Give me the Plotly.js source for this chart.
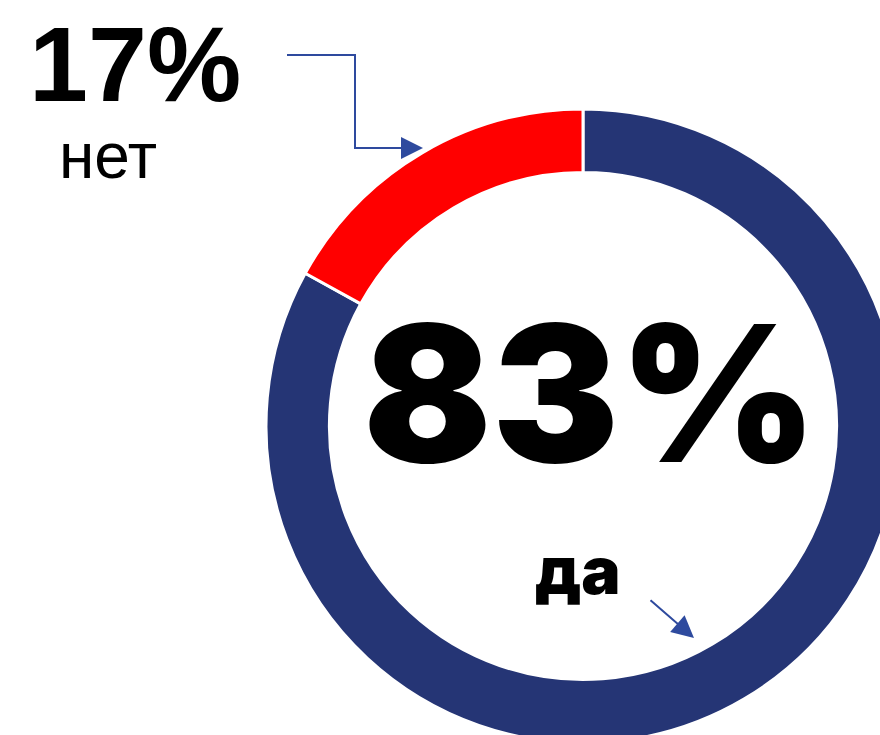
<!DOCTYPE html>
<html>
<head>
<meta charset="utf-8">
<script src="https://cdn.plot.ly/plotly-3.0.1.min.js"></script>
<style>
html, body { margin: 0; padding: 0; overflow: hidden; background: #ffffff; width: 880px; height: 735px; }
#chart { width: 1000px; height: 900px; }
</style>
</head>
<body>
<div id="chart"></div>
<script>
// Data (drawn clockwise from 12 o'clock: "да" first, "нет" ends at the top)
const labels = ['да', 'нет'];
const values = [83, 17];
const sliceColors = ['#253575', '#FF0000'];
const valueLabels = ['83%', '17%'];

const W = 1000, H = 900;
const px = v => v / W;
const py = v => 1 - v / H;

const trace = {
  type: 'pie',
  labels: labels,
  values: values,
  sort: false,
  direction: 'clockwise',
  rotation: 0,
  hole: 0.80,
  textinfo: 'none',
  hoverinfo: 'label+percent',
  marker: { colors: sliceColors, line: { color: '#ffffff', width: 3 } },
  domain: { x: [px(266), px(900)], y: [py(743), py(109)] },
  showlegend: false
};

const arrowColor = '#2E4A9E';
const font = 'Liberation Sans, Arial, sans-serif';
const heavy = 'Inter, Liberation Sans, sans-serif';

const layout = {
  width: W, height: H,
  margin: { l: 0, r: 0, t: 0, b: 0 },
  paper_bgcolor: '#ffffff',
  showlegend: false,
  shapes: [
    {
      type: 'path', xref: 'paper', yref: 'paper',
      path: `M ${px(287)} ${py(55)} L ${px(355)} ${py(55)} L ${px(355)} ${py(148)} L ${px(360)} ${py(148)}`,
      line: { color: arrowColor, width: 2 }
    }
  ],
  annotations: [
    { xref: 'paper', yref: 'paper', x: px(135), y: py(64), text: valueLabels[1],
      showarrow: false, xanchor: 'center', yanchor: 'middle', font: { family: font, size: 106, color: '#000000', weight: 700 } },
    { xref: 'paper', yref: 'paper', x: px(108), y: py(156), text: labels[1],
      showarrow: false, xanchor: 'center', yanchor: 'middle', font: { family: font, size: 64, color: '#000000' } },
    { xref: 'paper', yref: 'paper', x: px(590), y: py(393), text: valueLabels[0],
      showarrow: false, xanchor: 'center', yanchor: 'middle', font: { family: heavy, size: 190, color: '#000000', weight: 900 } },
    { xref: 'paper', yref: 'paper', x: px(578), y: py(570), text: labels[0],
      showarrow: false, xanchor: 'center', yanchor: 'middle', font: { family: heavy, size: 66, color: '#000000', weight: 900 } },
    { xref: 'paper', yref: 'paper', x: px(423), y: py(148), ax: -66, ay: 0, text: '',
      showarrow: true, arrowhead: 2, arrowsize: 2.2, arrowwidth: 2, arrowcolor: arrowColor, standoff: 0 },
    { xref: 'paper', yref: 'paper', x: px(694), y: py(638), ax: -45, ay: -39, text: '',
      showarrow: true, arrowhead: 2, arrowsize: 2.2, arrowwidth: 2, arrowcolor: arrowColor, standoff: 0 }
  ]
};

Plotly.newPlot('chart', [trace], layout, { displayModeBar: false, staticPlot: true });
</script>
</body>
</html>
